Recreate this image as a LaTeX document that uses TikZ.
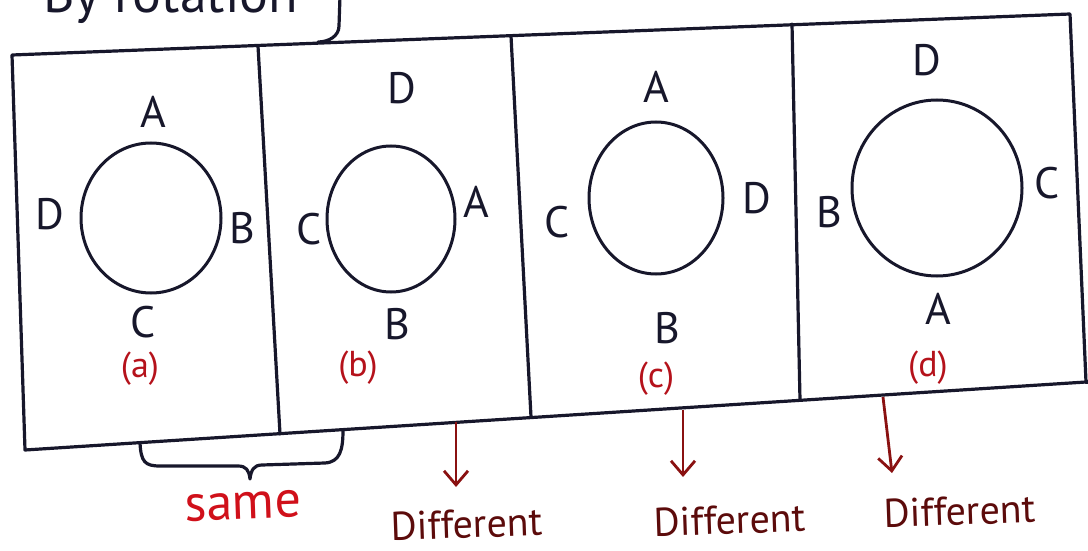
\documentclass[tikz,border=0pt]{standalone}
\usepackage{fontspec}
\setmainfont{PT Sans}
\usepackage{tikz}
\usetikzlibrary{positioning,arrows.meta,shapes.geometric}
\definecolor{ink}{HTML}{17172B}
\definecolor{tagred}{HTML}{B5121B}
\definecolor{samered}{HTML}{D0101A}
\definecolor{diffred}{HTML}{5C0B0B}
\definecolor{arrred}{HTML}{8A1111}
\tikzset{
  frame/.style={draw=ink,line width=1.6pt,line cap=round,line join=round},
  ring/.style={ellipse,draw=ink,line width=1.5pt,inner sep=0pt},
  vtx/.style={text=ink,inner sep=0pt,font=\fontsize{22}{24}\selectfont},
  tag/.style={text=tagred,inner sep=0pt,font=\fontsize{18}{20}\selectfont},
  verdict/.style={text=diffred,inner sep=0pt,rotate=2,font=\fontsize{20}{22}\selectfont},
  ar/.style={-{Straight Barb[length=7pt,width=12pt]},line width=1.4pt,draw=arrred},
}

\begin{document}
\begin{tikzpicture}[x=0.5pt,y=-0.5pt]
  \useasboundingbox (0,0) rectangle (1088,551);
  \clip (0,0) rectangle (1088,551);
  % heading, cut by the top edge
  \node[anchor=base west,inner sep=0pt,text=ink,font=\fontsize{27}{30}\selectfont] (title) at (43,13) {By rotation};
  \draw[frame] (340,-4) -- (339,26) to[out=-90,in=0] (318,42);

  % frame of the four panels
  \coordinate (tl) at (12,55);
  \coordinate (t1) at (258,46);
  \coordinate (t2) at (511,36);
  \coordinate (t3) at (792,24);
  \coordinate (tr) at (1070,14);
  \coordinate (bl) at (25,450);
  \coordinate (b1) at (280,434);
  \coordinate (b2) at (531,417);
  \coordinate (b3) at (800,400);
  \coordinate (br) at (1086,382);
  \draw[frame] (tl) -- (tr) -- (br) -- (bl) -- cycle;
  \draw[frame] (t1) -- (b1);
  \draw[frame] (t2) -- (b2);
  \draw[frame] (t3) -- (b3);
  \draw[frame] (br) -- (1092,382);

  % (a)
  \node[ring,minimum width=70pt,minimum height=75pt] (ringa) at (151,218) {};
  \node[vtx] (aA) at (153,112) {A};
  \node[vtx] (aB) at (242,228) {B};
  \node[vtx] (aC) at (143,322) {C};
  \node[vtx] (aD) at (50,214) {D};
  \node[tag] (taga) at (140,369) {(a)};

  % (b)
  \node[ring,minimum width=64pt,minimum height=73pt] (ringb) at (391,219) {};
  \node[vtx] (bD) at (402,88) {D};
  \node[vtx] (bA) at (476,202) {A};
  \node[vtx] (bB) at (397,324) {B};
  \node[vtx] (bC) at (309,229) {C};
  \node[tag] (tagb) at (358,368) {(b)};

  % (c)
  \node[ring,minimum width=67pt,minimum height=76pt] (ringc) at (656,198) {};
  \node[vtx] (cA) at (656,87) {A};
  \node[vtx] (cD) at (757,198) {D};
  \node[vtx] (cB) at (667,328) {B};
  \node[vtx] (cC) at (557,222) {C};
  \node[tag] (tagc) at (656,379) {(c)};

  % (d)
  \node[ring,minimum width=85pt,minimum height=88pt] (ringd) at (937,188) {};
  \node[vtx] (dD) at (927,60) {D};
  \node[vtx] (dC) at (1047,183) {C};
  \node[vtx] (dA) at (938,309) {A};
  \node[vtx] (dB) at (829,212) {B};
  \node[tag] (tagd) at (928,368) {(d)};

  % brace under (a) and (b)
  \coordinate (brl) at (140,443);
  \coordinate (brr) at (343,430);
  \draw[frame] (brl) .. controls (141,462) and (145,466) .. (160,466) -- (238,466)
    .. controls (246,466) and (249,470) .. (250,479)
    .. controls (251,470) and (254,465) .. (262,465) -- (325,463)
    .. controls (340,462) and (343,450) .. (brr);
  \node[text=samered,inner sep=0pt,rotate=2,font=\fontsize{26}{28}\selectfont] (same) at (243,506) {same};

  % verdicts
  \coordinate (s1) at (456,422);
  \coordinate (e1) at (456,487);
  \coordinate (s2) at (683,410);
  \coordinate (e2) at (683,477);
  \coordinate (s3) at (883,397);
  \coordinate (e3) at (892,473);
  \draw[ar] (s1) -- (e1);
  \draw[ar] (s2) -- (e2);
  \draw[ar] (s3) -- (e3);
  \node[verdict] (diffb) at (467,524) {Different};
  \node[verdict] (diffc) at (730,520) {Different};
  \node[verdict] (diffd) at (960,511) {Different};
\end{tikzpicture}
\end{document}
